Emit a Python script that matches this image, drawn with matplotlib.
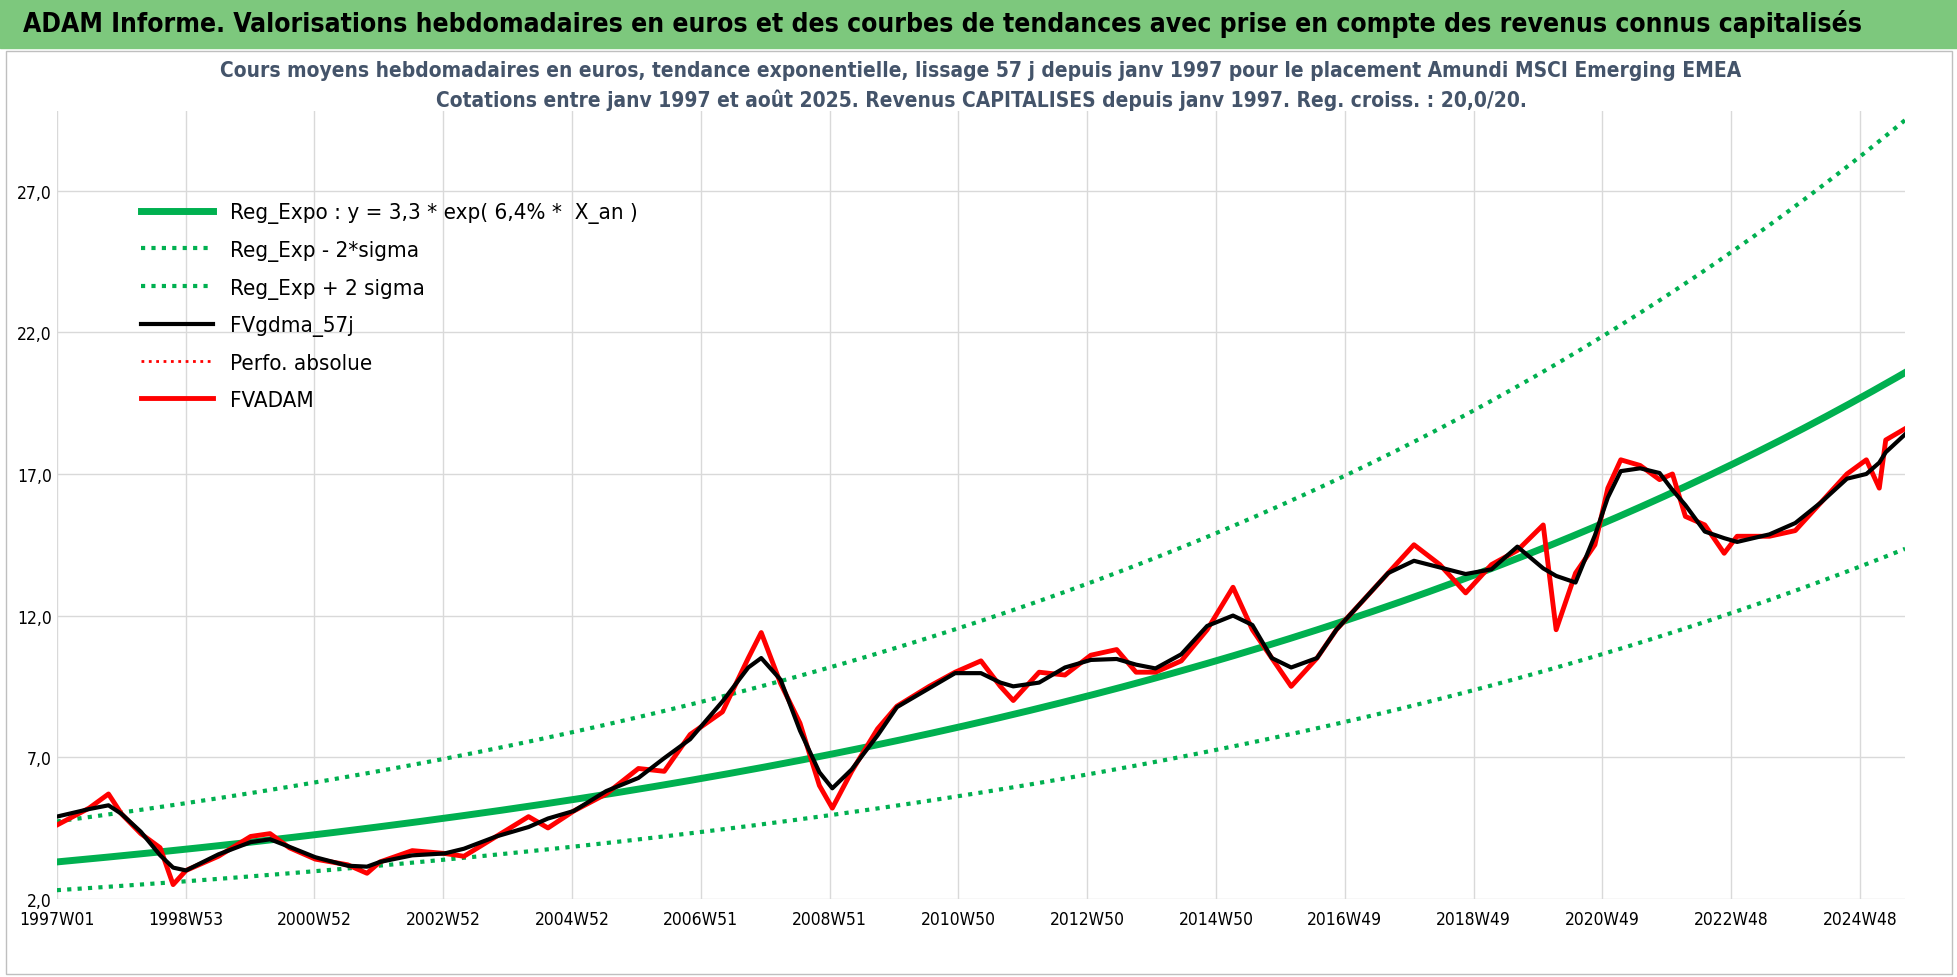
import numpy as np
import pandas as pd
import matplotlib.pyplot as plt
from matplotlib.patches import Rectangle

# values (year fraction, euro price)
years = [1997.0, 1997.5, 1997.8, 1998.0, 1998.3, 1998.6, 1998.8, 1999.0, 1999.5, 2000.0,
         2000.3, 2000.6, 2001.0, 2001.5, 2001.8, 2002.0, 2002.5, 2003.0, 2003.3, 2003.8,
         2004.3, 2004.6, 2005.0, 2005.5, 2006.0, 2006.4, 2006.8, 2007.3, 2007.7, 2007.9,
         2008.2, 2008.5, 2008.8, 2009.0, 2009.3, 2009.7, 2010.0, 2010.5, 2010.9, 2011.3,
         2011.6, 2011.8, 2012.2, 2012.6, 2013.0, 2013.4, 2013.7, 2014.0, 2014.4, 2014.8,
         2015.2, 2015.5, 2015.8, 2016.1, 2016.5, 2016.8, 2017.2, 2017.6, 2018.0, 2018.4,
         2018.8, 2019.2, 2019.6, 2020.0, 2020.2, 2020.5, 2020.8, 2021.0, 2021.2, 2021.5,
         2021.8, 2022.0, 2022.2, 2022.5, 2022.8, 2023.0, 2023.5, 2023.9, 2024.3, 2024.7,
         2025.0, 2025.2, 2025.3, 2025.6]
fvadam = [4.6, 5.2, 5.7, 5.0, 4.3, 3.8, 2.5, 3.0, 3.5, 4.2,
          4.3, 3.8, 3.4, 3.2, 2.9, 3.3, 3.7, 3.6, 3.5, 4.2,
          4.9, 4.5, 5.1, 5.7, 6.6, 6.5, 7.8, 8.6, 10.5, 11.4,
          9.6, 8.2, 6.0, 5.2, 6.5, 8.0, 8.8, 9.5, 10.0, 10.4,
          9.5, 9.0, 10.0, 9.9, 10.6, 10.8, 10.0, 10.0, 10.4, 11.5,
          13.0, 11.5, 10.5, 9.5, 10.5, 11.5, 12.5, 13.5, 14.5, 13.8,
          12.8, 13.8, 14.3, 15.2, 11.5, 13.5, 14.5, 16.5, 17.5, 17.3,
          16.8, 17.0, 15.5, 15.2, 14.2, 14.8, 14.8, 15.0, 16.0, 17.0,
          17.5, 16.5, 18.2, 18.6]
reg_a, reg_rate, sigma = 3.3, 0.064, 0.36

x_ticks = ["1997W01", "1998W53", "2000W52", "2002W52", "2004W52", "2006W51",
           "2008W51", "2010W50", "2012W50", "2014W50", "2016W49", "2018W49",
           "2020W49", "2022W48", "2024W48"]

years = np.array(years)
fvadam = np.array(fvadam)
t = np.linspace(1997.0, 2025.6, 400)
reg = reg_a * np.exp(reg_rate * (t - 1997.0))
smooth = pd.Series(fvadam).rolling(3, center=True, min_periods=1).mean()

plt.rcParams['font.family'] = ['DejaVu Sans']
plt.rcParams['font.stretch'] = 'condensed'

fig = plt.figure(figsize=(19.58, 9.78), dpi=100)
fig.patches.append(Rectangle((0, 0.95), 1, 0.05, transform=fig.transFigure,
                             color="#7dc87d", zorder=0))
fig.patches.append(Rectangle((0.003, 0.003), 0.994, 0.944, transform=fig.transFigure,
                             fill=False, edgecolor="#bfbfbf", lw=1))
fig.text(0.012, 0.975, "ADAM Informe. Valorisations hebdomadaires en euros et des courbes de tendances avec prise en compte des revenus connus capitalisés",
         fontsize=19, fontweight="bold", va="center")
ax = fig.add_axes([0.029, 0.08, 0.944, 0.805])
ax.plot(t, reg, color="#00b050", lw=5, label="Reg_Expo : y = 3,3 * exp( 6,4% *  X_an )")
ax.plot(t, reg * np.exp(-sigma), color="#00b050", lw=3, ls=(0, (1, 1.5)), label="Reg_Exp - 2*sigma")
ax.plot(t, reg * np.exp(sigma), color="#00b050", lw=3, ls=(0, (1, 1.5)), label="Reg_Exp + 2 sigma")
ax.plot(years, smooth, color="black", lw=3, label="FVgdma_57j", zorder=4)
ax.plot([], [], color="red", lw=2, ls=":", label="Perfo. absolue")
ax.plot(years, fvadam, color="red", lw=3.5, label="FVADAM", zorder=3)

ax.set_xlim(1997.0, 2025.6)
ax.set_ylim(2, 29.8)
ax.set_yticks([2, 7, 12, 17, 22, 27])
ax.set_yticklabels(["2,0", "7,0", "12,0", "17,0", "22,0", "27,0"])
tick_pos = 1997.0 + np.arange(len(x_ticks)) * 1.993
ax.set_xticks(tick_pos)
ax.set_xticklabels(x_ticks)
ax.tick_params(labelsize=12.5, length=0)
ax.tick_params(axis="x", pad=8)
ax.grid(True, color="#d9d9d9", lw=1)
for s in ax.spines.values():
    s.set_visible(False)
ax.set_title("Cours moyens hebdomadaires en euros, tendance exponentielle, lissage 57 j depuis janv 1997 pour le placement Amundi MSCI Emerging EMEA\n"
             "Cotations entre janv 1997 et août 2025. Revenus CAPITALISES depuis janv 1997. Reg. croiss. : 20,0/20.",
             fontsize=15, fontweight="bold", color="#44546a", pad=4, linespacing=1.5)
ax.legend(loc="upper left", bbox_to_anchor=(0.035, 0.91), frameon=False,
          handlelength=3.2, labelspacing=0.75, prop={"size": 16})
fig.savefig("out.png", dpi=100)
